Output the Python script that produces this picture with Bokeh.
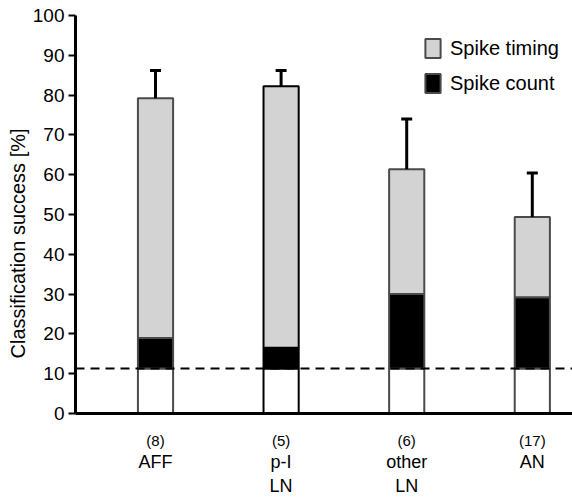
from bokeh.plotting import figure
from bokeh.models import (Range1d, FixedTicker, LinearAxis, ColumnDataSource,
                          Whisker, TeeHead, Span, Legend, LegendItem, Title)
from bokeh.embed import file_html
from bokeh.resources import INLINE

# ---- data ----
categories = ["AFF", "p-I\nLN", "other\nLN", "AN"]
n_cells = ["(8)", "(5)", "(6)", "(17)"]
chance_level = 11.3
count_top = [19.0, 16.5, 30.0, 29.2]      # top of spike-count (black) part
timing_top = [79.2, 82.2, 61.4, 49.4]     # top of spike-timing (grey) part
error_top = [86.2, 86.2, 74.0, 60.4]      # upper end of error bars
y_ticks = [0, 10, 20, 30, 40, 50, 60, 70, 80, 90, 100]

# styles
outline_colors = ["#4a4a4a", "#000000", "#4a4a4a", "#4a4a4a"]
FONT = "Liberation Sans"

x = [i + 1 for i in range(len(categories))]
src = ColumnDataSource(dict(
    x=x,
    zero=[0] * len(x),
    chance=[chance_level] * len(x),
    count=count_top,
    timing=timing_top,
    err=error_top,
    lc=outline_colors,
))

p = figure(width=572, height=498, output_backend="svg", toolbar_location=None,
           x_range=Range1d(0.363, 4.32), y_range=Range1d(0, 100),
           min_border_left=75, min_border_right=0, min_border_top=15,
           min_border_bottom=84, x_axis_location=None)
p.outline_line_color = None
p.grid.visible = False
p.background_fill_color = "white"
p.border_fill_color = "white"

bw = 0.28
r_white = p.vbar(x="x", bottom="zero", top="chance", width=bw, source=src,
                 fill_color="white", line_color="lc", line_width=2)
r_count = p.vbar(x="x", bottom="chance", top="count", width=bw, source=src,
                 fill_color="black", line_color="lc", line_width=2)
r_timing = p.vbar(x="x", bottom="count", top="timing", width=bw, source=src,
                  fill_color="#d3d3d3", line_color="lc", line_width=2)

wh = Whisker(base="x", lower="timing", upper="err", source=src,
             line_width=3, line_color="black",
             upper_head=TeeHead(size=11, line_width=3, line_color="black"),
             lower_head=None, level="glyph")
p.add_layout(wh)

span = Span(location=chance_level, dimension="width", line_dash="9 6",
            line_width=2, line_color="black")
p.add_layout(span)

# y axis
ya = p.yaxis[0]
ya.ticker = FixedTicker(ticks=y_ticks)
ya.axis_line_width = 3
ya.major_tick_line_width = 2
ya.major_tick_out = 7
ya.major_tick_in = 0
ya.minor_tick_line_color = None
ya.major_label_text_font = FONT
ya.major_label_text_font_size = "19px"
ya.major_label_text_color = "black"
ya.major_label_standoff = 4

ylab = Title(text="Classification success [%]", align="left", offset=55,
             text_font=FONT, text_font_size="20px", text_font_style="normal",
             text_color="black", standoff=2)
p.add_layout(ylab, "left")

# x axis: cell counts
xa1 = LinearAxis(ticker=FixedTicker(ticks=x),
                 major_label_overrides={xi: n for xi, n in zip(x, n_cells)})
xa1.axis_line_width = 3
xa1.major_tick_line_color = None
xa1.major_tick_out = 0
xa1.major_tick_in = 0
xa1.minor_tick_line_color = None
xa1.major_label_text_font = FONT
xa1.major_label_text_font_size = "15px"
xa1.major_label_text_color = "black"
xa1.major_label_standoff = 18
p.add_layout(xa1, "below")

# x axis: category names
xa2 = LinearAxis(ticker=FixedTicker(ticks=x),
                 major_label_overrides={xi: c for xi, c in zip(x, categories)})
xa2.axis_line_color = None
xa2.major_tick_line_color = None
xa2.major_tick_out = 0
xa2.major_tick_in = 0
xa2.minor_tick_line_color = None
xa2.major_label_text_font = FONT
xa2.major_label_text_font_size = "18px"
xa2.major_label_text_line_height = 1.2
xa2.major_label_text_color = "black"
xa2.major_label_standoff = 0
p.add_layout(xa2, "below")

legend = Legend(items=[LegendItem(label="Spike timing", renderers=[r_timing]),
                       LegendItem(label="Spike count", renderers=[r_count])],
                location=(348, 318))
legend.padding = 0
legend.margin = 0
legend.spacing = 11
legend.glyph_width = 19
legend.glyph_height = 24
legend.label_standoff = 8
legend.label_text_font = FONT
legend.label_text_font_size = "20px"
legend.label_text_color = "black"
legend.border_line_color = None
legend.background_fill_alpha = 0
p.add_layout(legend, "center")

open("out.html", "w").write(file_html(p, INLINE))
